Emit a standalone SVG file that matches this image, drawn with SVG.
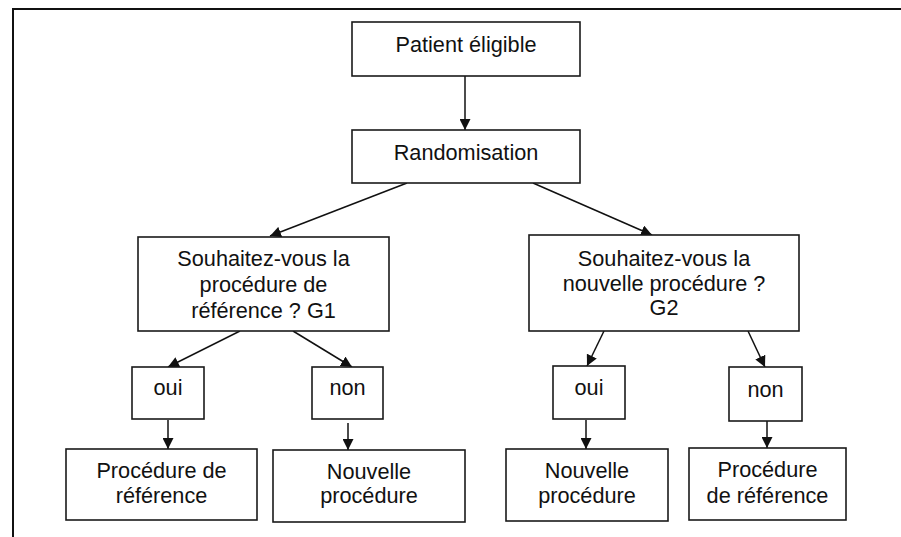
<svg xmlns="http://www.w3.org/2000/svg" width="901" height="537" viewBox="0 0 901 537">
<style>
.box{fill:#fff;stroke:#1a1a1a;stroke-width:1.6}
.t{font-family:"Liberation Sans",Arial,Helvetica,sans-serif;font-size:21.7px;fill:#111;text-anchor:middle}
.c{stroke:#111;stroke-width:1.5;fill:none;marker-end:url(#ah)}
</style>
<defs>
<marker id="ah" markerUnits="userSpaceOnUse" markerWidth="11" markerHeight="11" refX="11" refY="5.5" orient="auto" viewBox="0 0 11 11">
<path d="M0,0 L11,5.5 L0,11 z" fill="#111"/>
</marker>
</defs>
<rect width="901" height="537" fill="#fff"/>
<path d="M13,537 L13,9 L901,9" fill="none" stroke="#111" stroke-width="2"/>
<g id="connectors">
<line class="c" x1="465" y1="76" x2="465" y2="130"/>
<line class="c" x1="407" y1="183" x2="270" y2="236"/>
<line class="c" x1="533" y1="183" x2="652" y2="235"/>
<line class="c" x1="240" y1="331" x2="168" y2="367"/>
<line class="c" x1="293" y1="331" x2="352" y2="367"/>
<line class="c" x1="604" y1="331" x2="587" y2="366"/>
<line class="c" x1="748" y1="331" x2="765" y2="367"/>
<line class="c" x1="168" y1="420" x2="168" y2="449"/>
<line class="c" x1="348" y1="423" x2="348" y2="450"/>
<line class="c" x1="586" y1="420" x2="586" y2="449"/>
<line class="c" x1="767" y1="421" x2="767" y2="448"/>
</g>
<g id="patient">
<rect class="box" x="352" y="22" width="228" height="54"/>
<text class="t" x="466" y="52">Patient éligible</text>
</g>
<g id="randomisation">
<rect class="box" x="352" y="130" width="228" height="53"/>
<text class="t" x="466" y="160">Randomisation</text>
</g>
<g id="q1">
<rect class="box" x="138" y="237" width="251" height="94"/>
<text class="t" x="263.5" y="266">Souhaitez-vous la</text>
<text class="t" x="263.5" y="292">procédure de</text>
<text class="t" x="263.5" y="318">référence ? G1</text>
</g>
<g id="q2">
<rect class="box" x="529" y="235" width="270" height="96"/>
<text class="t" x="664" y="266">Souhaitez-vous la</text>
<text class="t" x="664" y="290.5">nouvelle procédure ?</text>
<text class="t" x="664" y="315">G2</text>
</g>
<g id="oui1">
<rect class="box" x="132" y="367" width="72" height="52"/>
<text class="t" x="168" y="395">oui</text>
</g>
<g id="non1">
<rect class="box" x="312" y="367" width="71" height="52"/>
<text class="t" x="347.5" y="395">non</text>
</g>
<g id="oui2">
<rect class="box" x="553" y="366" width="72" height="53"/>
<text class="t" x="589" y="395">oui</text>
</g>
<g id="non2">
<rect class="box" x="729" y="367" width="73" height="54"/>
<text class="t" x="765.5" y="396.5">non</text>
</g>
<g id="ref1">
<rect class="box" x="66" y="449" width="191" height="71"/>
<text class="t" x="161.5" y="478">Procédure de</text>
<text class="t" x="161.5" y="503">référence</text>
</g>
<g id="nouv1">
<rect class="box" x="273" y="450" width="192" height="72"/>
<text class="t" x="369" y="479">Nouvelle</text>
<text class="t" x="369" y="503">procédure</text>
</g>
<g id="nouv2">
<rect class="box" x="506" y="449" width="162" height="72"/>
<text class="t" x="587" y="478">Nouvelle</text>
<text class="t" x="587" y="503">procédure</text>
</g>
<g id="ref2">
<rect class="box" x="689" y="448" width="157" height="72"/>
<text class="t" x="767.5" y="477">Procédure</text>
<text class="t" x="767.5" y="502.5">de référence</text>
</g>
</svg>
